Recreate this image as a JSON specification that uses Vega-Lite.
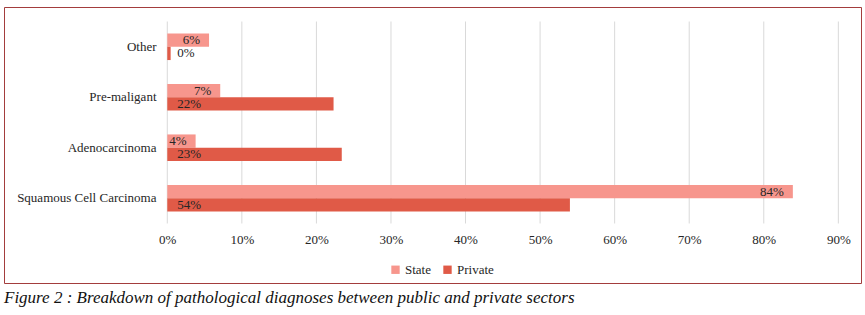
{
  "$schema": "https://vega.github.io/schema/vega-lite/v6.json",
  "width": 857,
  "height": 276,
  "padding": {"left": 4, "top": 7, "right": 4, "bottom": 4},
  "background": "white",
  "config": {
    "view": {"stroke": "#A33D3D", "strokeWidth": 1},
    "font": "Liberation Serif"
  },
  "title": {
    "text": "Figure 2 : Breakdown of pathological diagnoses between public and private sectors",
    "orient": "bottom",
    "anchor": "start",
    "font": "Liberation Serif",
    "fontSize": 17,
    "fontStyle": "italic",
    "fontWeight": "normal",
    "color": "#111111",
    "offset": 7
  },
  "datasets": {
    "diag": [
      {"category": "Other", "sector": "State", "value": 0.056},
      {"category": "Other", "sector": "Private", "value": 0.0045},
      {"category": "Pre-maligant", "sector": "State", "value": 0.071},
      {"category": "Pre-maligant", "sector": "Private", "value": 0.223},
      {"category": "Adenocarcinoma", "sector": "State", "value": 0.038},
      {"category": "Adenocarcinoma", "sector": "Private", "value": 0.234},
      {"category": "Squamous Cell Carcinoma", "sector": "State", "value": 0.839},
      {"category": "Squamous Cell Carcinoma", "sector": "Private", "value": 0.54}
    ],
    "grid": [
      {"tick": 0}, {"tick": 0.1}, {"tick": 0.2}, {"tick": 0.3}, {"tick": 0.4},
      {"tick": 0.5}, {"tick": 0.6}, {"tick": 0.7}, {"tick": 0.8}, {"tick": 0.9}
    ]
  },
  "layer": [
    {
      "data": {"name": "grid"},
      "mark": {"type": "rule", "color": "#D9D9D9", "strokeWidth": 1},
      "encoding": {
        "x": {
          "field": "tick", "type": "quantitative",
          "scale": {"domain": [-0.219, 0.9304], "nice": false, "zero": false},
          "axis": {"title": null, "orient": "bottom", "offset": -61, "values": [0, 0.1, 0.2, 0.3, 0.4, 0.5, 0.6, 0.7, 0.8, 0.9], "format": ".0%", "grid": false, "domain": false, "ticks": false, "labelPadding": 11, "labelFontSize": 13, "labelColor": "#262626", "labelFont": "Liberation Serif"}
        },
        "y": {"datum": "Other", "type": "nominal", "bandPosition": 0,
          "axis": {"title": null, "orient": "left", "offset": -163, "domain": false, "ticks": false, "grid": false, "labelPadding": 11, "labelFontSize": 13, "labelColor": "#262626", "labelFont": "Liberation Serif"}},
        "y2": {"datum": "Squamous Cell Carcinoma", "bandPosition": 1}
      }
    },
    {
      "data": {"name": "diag"},
      "mark": {"type": "bar"},
      "encoding": {
        "x": {
          "field": "value", "type": "quantitative",
          "scale": {"domain": [-0.219, 0.9304], "nice": false, "zero": false},
          "axis": {"title": null, "orient": "bottom", "offset": -61, "values": [0, 0.1, 0.2, 0.3, 0.4, 0.5, 0.6, 0.7, 0.8, 0.9], "format": ".0%", "grid": false, "domain": false, "ticks": false, "labelPadding": 11, "labelFontSize": 13, "labelColor": "#262626", "labelFont": "Liberation Serif"}
        },
        "y": {
          "field": "category", "type": "nominal",
          "scale": {"domain": ["Other", "Pre-maligant", "Adenocarcinoma", "Squamous Cell Carcinoma"], "paddingInner": 0, "paddingOuter": 0.733, "align": 0.196},
          "axis": {"title": null, "orient": "left", "offset": -163, "domain": false, "ticks": false, "grid": false, "labelPadding": 11, "labelFontSize": 13, "labelColor": "#262626", "labelFont": "Liberation Serif"}
        },
        "yOffset": {
          "field": "sector", "type": "nominal",
          "scale": {"domain": ["State", "Private"], "paddingInner": 0, "paddingOuter": 0.898}
        },
        "color": {
          "field": "sector", "type": "nominal",
          "scale": {"domain": ["State", "Private"], "range": ["#F7968D", "#E05A47"]},
          "legend": {"title": null, "orient": "none", "legendX": 385, "legendY": 256, "direction": "horizontal", "symbolType": "square", "symbolSize": 70, "symbolStrokeWidth": 0, "labelFontSize": 13, "labelFont": "Liberation Serif", "labelColor": "#262626", "columnPadding": 10, "labelOffset": 3}
        }
      }
    },
    {
      "data": {"name": "diag"},
      "transform": [{"filter": "datum.sector === 'State'"}],
      "mark": {"type": "text", "align": "right", "baseline": "middle", "dx": -9, "fontSize": 13, "color": "#262626", "font": "Liberation Serif"},
      "encoding": {
        "x": {"field": "value", "type": "quantitative"},
        "y": {"field": "category", "type": "nominal"},
        "yOffset": {"field": "sector", "type": "nominal"},
        "text": {"field": "value", "type": "quantitative", "format": ".0%"}
      }
    },
    {
      "data": {"name": "diag"},
      "transform": [{"filter": "datum.sector === 'Private'"}],
      "mark": {"type": "text", "align": "left", "baseline": "middle", "dx": 10, "fontSize": 13, "color": "#262626", "font": "Liberation Serif"},
      "encoding": {
        "x": {"datum": 0, "type": "quantitative"},
        "y": {"field": "category", "type": "nominal"},
        "yOffset": {"field": "sector", "type": "nominal"},
        "text": {"field": "value", "type": "quantitative", "format": ".0%"}
      }
    }
  ]
}
